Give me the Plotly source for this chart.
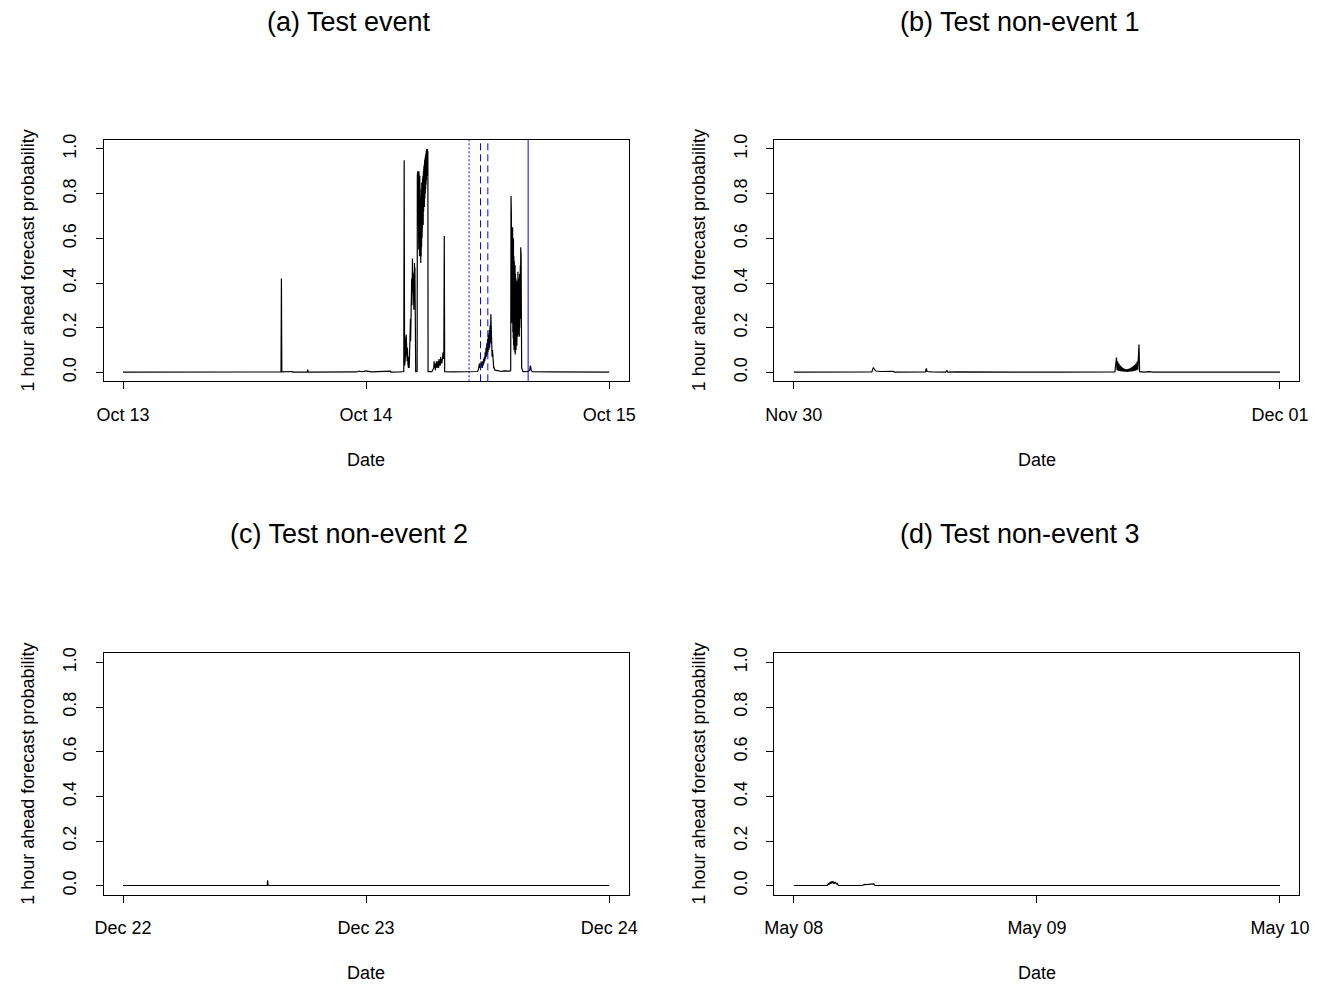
import plotly.graph_objects as go

# ---- panel (a): Test event, hours after Oct 13 00:00 ----
a_hours = [
    0.0, 2.2, 2.3, 2.6, 3.0, 3.4, 5.5, 5.55, 8.7, 8.8, 9.2, 9.45,
    15.6, 15.64, 15.68, 16.7, 16.75, 18.2, 18.24, 18.3, 20.0,
    23.1, 23.3, 23.6, 24.0, 24.3, 24.5, 26.4, 26.45, 27.3, 27.6,
    27.72, 27.76, 27.80,
    27.84, 27.86, 27.88, 27.90, 27.92, 27.94, 27.96, 27.98, 28.00, 28.02,
    28.04, 28.06, 28.08, 28.10, 28.12, 28.14, 28.16, 28.18, 28.20, 28.22,
    28.24, 28.26,
    28.28, 28.30, 28.32, 28.34, 28.36, 28.38, 28.40, 28.42, 28.44, 28.46,
    28.48, 28.50, 28.52, 28.54, 28.56, 28.58, 28.60, 28.62, 28.64, 28.66,
    28.68, 28.70, 28.72, 28.74, 28.76, 28.78, 28.80, 28.82, 28.84,
    28.9, 29.0,
    29.04, 29.06, 29.08, 29.10, 29.12, 29.14, 29.16, 29.18, 29.20, 29.22,
    29.24, 29.26, 29.28, 29.30, 29.32, 29.34, 29.36, 29.38, 29.40, 29.42,
    29.44, 29.46, 29.48, 29.50, 29.52, 29.54, 29.56, 29.58, 29.60, 29.62,
    29.64, 29.66, 29.68, 29.70, 29.72, 29.74, 29.76, 29.78, 29.80, 29.82,
    29.84, 29.86, 29.88, 29.90, 29.92, 29.94, 29.96, 29.98, 30.00, 30.02,
    30.04, 30.06, 30.08, 30.10, 30.12,
    30.3, 30.5,
    30.68, 30.72, 30.76, 30.80, 30.84, 30.88, 30.92, 30.96, 31.00, 31.04,
    31.08, 31.12, 31.16, 31.20, 31.24, 31.28, 31.32, 31.36, 31.40, 31.44,
    31.48, 31.52, 31.56, 31.60, 31.64, 31.68, 31.72, 31.76,
    32.5, 33.5, 34.5, 35.0,
    35.08, 35.12, 35.16, 35.20, 35.24, 35.28, 35.32, 35.36, 35.40, 35.44,
    35.48,
    35.52, 35.56, 35.60, 35.64, 35.68, 35.72, 35.76, 35.80, 35.84, 35.88,
    35.92, 35.96, 36.00, 36.04, 36.08, 36.12, 36.16, 36.20, 36.24, 36.28,
    36.32, 36.36, 36.40, 36.44, 36.48, 36.52, 36.56, 36.60, 36.66, 36.72,
    37.0, 37.3, 37.6, 37.9, 38.2,
    38.28, 38.31, 38.33, 38.35, 38.37, 38.39, 38.41, 38.43, 38.45, 38.47,
    38.49, 38.51, 38.53, 38.55, 38.57, 38.59, 38.61, 38.63, 38.65, 38.67,
    38.69, 38.71, 38.73, 38.75, 38.77, 38.79, 38.81, 38.83, 38.85, 38.87,
    38.89, 38.91, 38.93, 38.95, 38.97, 38.99, 39.01, 39.03, 39.05, 39.07,
    39.09, 39.11, 39.13, 39.15, 39.17, 39.19, 39.21, 39.23, 39.25, 39.27,
    39.29, 39.31, 39.33, 39.36,
    39.5, 40.0, 40.15, 40.23, 40.30, 40.4, 42.0, 44.0, 46.0, 48.0,
]
a_prob = [
    0.001, 0.001, 0.004, 0.002, 0.004, 0.001, 0.003, 0.001, 0.001, 0.004, 0.003, 0.001,
    0.002, 0.42, 0.002, 0.004, 0.001, 0.002, 0.012, 0.001, 0.001,
    0.002, 0.006, 0.003, 0.007, 0.004, 0.002, 0.006, 0.001, 0.002, 0.005,
    0.004, 0.95, 0.03,
    0.09, 0.05, 0.14, 0.07, 0.16, 0.08, 0.17, 0.10, 0.15, 0.06,
    0.13, 0.05, 0.11, 0.04, 0.09, 0.03, 0.07, 0.02, 0.05, 0.02,
    0.03, 0.02,
    0.06, 0.12, 0.05, 0.18, 0.10, 0.24, 0.14, 0.30, 0.20, 0.36,
    0.26, 0.42, 0.30, 0.47, 0.34, 0.51, 0.36, 0.44, 0.32, 0.42,
    0.30, 0.40, 0.28, 0.45, 0.33, 0.49, 0.38, 0.47, 0.02,
    0.003, 0.003,
    0.004, 0.88, 0.72, 0.90, 0.66, 0.89, 0.60, 0.87, 0.55, 0.90,
    0.58, 0.86, 0.52, 0.88, 0.62, 0.84, 0.50, 0.80, 0.49, 0.78,
    0.52, 0.82, 0.56, 0.85, 0.60, 0.83, 0.66, 0.86, 0.70, 0.88,
    0.66, 0.90, 0.72, 0.92, 0.76, 0.93, 0.74, 0.95, 0.78, 0.96,
    0.80, 0.97, 0.82, 0.98, 0.84, 0.99, 0.86, 1.00, 0.88, 0.99,
    0.90, 1.00, 0.92, 0.99, 0.003,
    0.004, 0.003,
    0.02, 0.05, 0.02, 0.04, 0.01, 0.03, 0.02, 0.05, 0.02, 0.04,
    0.03, 0.05, 0.02, 0.06, 0.03, 0.05, 0.03, 0.07, 0.04, 0.06,
    0.04, 0.08, 0.05, 0.09, 0.06, 0.10, 0.61, 0.003,
    0.002, 0.003, 0.002, 0.004,
    0.01, 0.03, 0.015, 0.04, 0.02, 0.035, 0.02, 0.05, 0.03, 0.04,
    0.02,
    0.05, 0.03, 0.06, 0.04, 0.07, 0.05, 0.09, 0.06, 0.11, 0.07,
    0.13, 0.08, 0.15, 0.09, 0.17, 0.10, 0.19, 0.11, 0.21, 0.13,
    0.26, 0.12, 0.19, 0.07, 0.10, 0.04, 0.05, 0.02, 0.02, 0.01,
    0.008, 0.004, 0.007, 0.005, 0.006,
    0.01, 0.79, 0.35, 0.70, 0.28, 0.64, 0.22, 0.62, 0.25, 0.65,
    0.18, 0.58, 0.15, 0.60, 0.12, 0.52, 0.10, 0.50, 0.14, 0.45,
    0.09, 0.48, 0.08, 0.44, 0.12, 0.42, 0.10, 0.40, 0.14, 0.38,
    0.12, 0.41, 0.18, 0.44, 0.16, 0.45, 0.20, 0.42, 0.17, 0.38,
    0.20, 0.40, 0.16, 0.44, 0.20, 0.46, 0.22, 0.48, 0.24, 0.56,
    0.28, 0.52, 0.30, 0.02,
    0.003, 0.004, 0.01, 0.03, 0.01, 0.003, 0.002, 0.001, 0.001, 0.001,
]

# event markers in panel (a), hours after Oct 13 00:00
event_hours = [34.17, 35.30, 36.02, 40.0]
event_dash = ["2px,2px", "7px,4px", "7px,4px", "solid"]

# ---- panel (b): Test non-event 1, hours after Nov 30 00:00 ----
b_hours = [
    0.0, 2.0, 3.85, 3.92, 3.98, 4.05, 4.3, 4.6, 4.88, 4.92, 4.96,
    6.0, 6.50, 6.54, 6.58, 6.8, 7.5, 7.56, 7.6, 8.0, 10.0, 13.0, 15.85,
    15.93, 15.96, 15.99, 16.02, 16.05, 16.08, 16.11, 16.14, 16.17, 16.20,
    16.23, 16.26, 16.29, 16.32, 16.35, 16.38, 16.41, 16.44, 16.47, 16.50,
    16.53, 16.56, 16.59, 16.62, 16.65, 16.68, 16.71, 16.74, 16.77, 16.80,
    16.83, 16.86, 16.89, 16.92, 16.95, 16.98, 17.01, 17.04, 17.07,
    17.3, 17.52, 17.6, 17.7, 17.77, 20.0, 24.0,
]
b_prob = [
    0.001, 0.001, 0.002, 0.021, 0.012, 0.006, 0.004, 0.003, 0.002, 0.005, 0.001,
    0.001, 0.002, 0.018, 0.004, 0.002, 0.001, 0.008, 0.001, 0.002, 0.001, 0.001, 0.002,
    0.066, 0.010, 0.050, 0.008, 0.040, 0.006, 0.032, 0.005, 0.026, 0.004,
    0.022, 0.004, 0.018, 0.003, 0.015, 0.003, 0.013, 0.002, 0.014, 0.003,
    0.016, 0.003, 0.018, 0.004, 0.021, 0.004, 0.025, 0.005, 0.029, 0.006,
    0.034, 0.008, 0.040, 0.010, 0.048, 0.012, 0.056, 0.125, 0.003,
    0.001, 0.003, 0.002, 0.003, 0.001, 0.001, 0.001,
]

# ---- panel (c): Test non-event 2, hours after Dec 22 00:00 ----
c_hours = [0.0, 5.0, 10.0, 13.25, 13.28, 13.31, 14.24, 14.28, 14.32,
           20.0, 30.0, 37.85, 37.9, 38.05, 38.2, 38.25, 44.0, 48.0]
c_prob = [0.001, 0.001, 0.001, 0.001, 0.004, 0.001, 0.001, 0.024, 0.001,
          0.001, 0.001, 0.001, 0.004, 0.003, 0.004, 0.001, 0.001, 0.001]

# ---- panel (d): Test non-event 3, hours after May 08 00:00 ----
d_hours = [
    0.0, 2.0, 3.30, 3.37, 3.42, 3.47, 3.52, 3.57, 3.62, 3.67, 3.72, 3.77,
    3.82, 3.87, 3.92, 3.97, 4.02, 4.07, 4.12, 4.17, 4.22, 4.28, 4.34, 4.4,
    6.8, 6.87, 6.95, 7.1, 7.3, 7.5, 7.7, 7.9, 8.0, 8.05,
    15.0, 25.0, 35.8, 35.9, 36.3, 36.8, 36.9, 40.45, 40.5, 40.55, 48.0,
]
d_prob = [
    0.001, 0.001, 0.002, 0.008, 0.004, 0.012, 0.006, 0.016, 0.008, 0.018, 0.010, 0.020,
    0.012, 0.019, 0.010, 0.017, 0.009, 0.016, 0.012, 0.014, 0.008, 0.010, 0.003, 0.001,
    0.001, 0.004, 0.006, 0.005, 0.006, 0.005, 0.007, 0.008, 0.002, 0.001,
    0.001, 0.001, 0.001, 0.003, 0.002, 0.003, 0.001, 0.001, 0.003, 0.001, 0.001,
]

titles = ["(a) Test event", "(b) Test non-event 1",
          "(c) Test non-event 2", "(d) Test non-event 3"]
date_labels = [["Oct 13", "Oct 14", "Oct 15"], ["Nov 30", "Dec 01"],
               ["Dec 22", "Dec 23", "Dec 24"], ["May 08", "May 09", "May 10"]]
date_hours = [[0, 24, 48], [0, 24], [0, 24, 48], [0, 24, 48]]
span_hours = [48, 24, 48, 48]
y_ticks = [0.0, 0.2, 0.4, 0.6, 0.8, 1.0]
y_tick_text = ["0.0", "0.2", "0.4", "0.6", "0.8", "1.0"]
y_title = "1 hour ahead forecast probability"
x_title = "Date"

series = [(a_hours, a_prob), (b_hours, b_prob), (c_hours, c_prob), (d_hours, d_prob)]

W, H = 1336, 988
FONT = "Liberation Sans, Arial, Helvetica, sans-serif"

# plot boxes in pixels: (left, right, top, bottom)
boxes = [(95, 628, 135, 378), (776, 1309, 135, 378),
         (95, 628, 652, 895), (776, 1309, 652, 895)]

fig = go.Figure()
layout = dict(
    width=W, height=H, margin=dict(l=0, r=0, t=0, b=0),
    paper_bgcolor="white", plot_bgcolor="white", showlegend=False,
    font=dict(family=FONT, size=18, color="black"),
)
annotations = []
shapes = []

for i, ((hx, py), box) in enumerate(zip(series, boxes)):
    n = "" if i == 0 else str(i + 1)
    left, right, top, bottom = box
    fig.add_trace(go.Scatter(
        x=hx, y=py, mode="lines", xaxis="x" + n, yaxis="y" + n,
        line=dict(color="black", width=1.2), hoverinfo="skip",
    ))
    pad_x = 0.04 * span_hours[i]
    layout["xaxis" + n] = dict(
        domain=[left / W, right / W], anchor="y" + n,
        range=[-pad_x, span_hours[i] + pad_x],
        tickmode="array", tickvals=date_hours[i], ticktext=date_labels[i],
        ticks="outside", ticklen=7, tickwidth=1, tickcolor="black",
        showline=True, linecolor="black", linewidth=1, mirror=True,
        showgrid=False, zeroline=False, ticklabelstandoff=10,
        tickfont=dict(family=FONT, size=18, color="black"),
    )
    layout["yaxis" + n] = dict(
        domain=[1 - bottom / H, 1 - top / H], anchor="x" + n,
        range=[-0.04, 1.04],
        tickmode="array", tickvals=y_ticks, ticktext=y_tick_text,
        tickangle=-90,
        ticks="outside", ticklen=7, tickwidth=1, tickcolor="black",
        showline=True, linecolor="black", linewidth=1, mirror=True,
        showgrid=False, zeroline=False, ticklabelstandoff=12,
        tickfont=dict(family=FONT, size=18, color="black"),
    )
    cx = (left + right) / 2
    title_x = 344 if i % 2 == 0 else 1025
    title_y = 16 if i < 2 else 532
    annotations.append(dict(
        text=titles[i], x=title_x / W, y=1 - title_y / H, xref="paper", yref="paper",
        xanchor="center", yanchor="middle", showarrow=False,
        font=dict(family=FONT, size=27, color="black"),
    ))
    annotations.append(dict(
        text=x_title, x=cx / W, y=1 - (bottom + 79) / H, xref="paper", yref="paper",
        xanchor="center", yanchor="middle", showarrow=False,
        font=dict(family=FONT, size=18, color="black"),
    ))
    annotations.append(dict(
        text=y_title, x=(left - 77) / W, y=1 - ((top + bottom) / 2) / H,
        xref="paper", yref="paper", textangle=-90,
        xanchor="center", yanchor="middle", showarrow=False,
        font=dict(family=FONT, size=18, color="black"),
    ))

# vertical event markers in panel (a)
for hx, dash in zip(event_hours, event_dash):
    shapes.append(dict(
        type="line", xref="x", yref="y domain", x0=hx, x1=hx, y0=0, y1=1,
        line=dict(color="#0000ff", width=1, dash=dash),
    ))

layout["annotations"] = annotations
layout["shapes"] = shapes
fig.update_layout(**layout)
fig.write_html("out.html")
